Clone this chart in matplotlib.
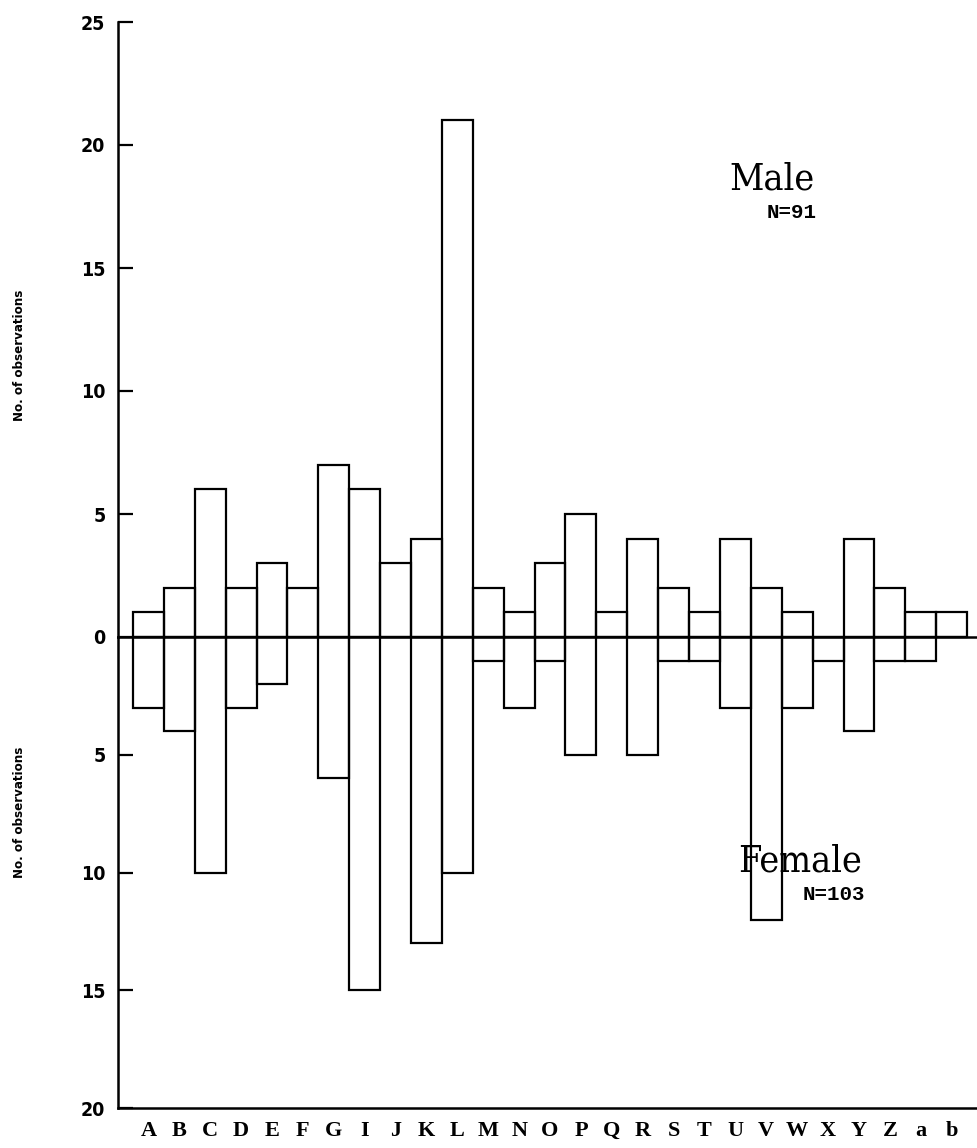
import matplotlib
matplotlib.use("Agg")
import matplotlib.pyplot as plt
import numpy as np

# categories along the bottom (no H in the original)
letters = ['A', 'B', 'C', 'D', 'E', 'F', 'G', 'I', 'J', 'K', 'L', 'M', 'N', 'O',
           'P', 'Q', 'R', 'S', 'T', 'U', 'V', 'W', 'X', 'Y', 'Z', 'a', 'b']
# counts
male = [1, 2, 6, 2, 3, 2, 7, 6, 3, 4, 21, 2, 1, 3, 5, 1, 4, 2, 1, 4, 2, 1, 0, 4, 2, 1, 1]
female = [3, 4, 10, 3, 2, 0, 6, 15, 0, 13, 10, 1, 3, 1, 5, 0, 5, 1, 1, 3, 12, 3, 1, 4, 1, 1, 0]
male_ticks = [0, 5, 10, 15, 20, 25]
female_ticks = [5, 10, 15, 20]

x = np.arange(len(letters))

W, H = 977, 1148
fig = plt.figure(figsize=(W / 100, H / 100), dpi=100, facecolor='white')

left = 118 / W
ax_f = fig.add_axes([left, (H - 1108) / H, 1 - left, (1108 - 637) / H])
ax_m = fig.add_axes([left, (H - 637) / H, 1 - left, (637 - 22) / H], sharex=ax_f)
ax_m.patch.set_visible(False)
ax_f.patch.set_visible(False)

bar_kw = dict(width=1, fill=False, edgecolor='black', linewidth=1.6, clip_on=False)
ax_m.bar(x, male, **bar_kw)
ax_f.bar(x, female, **bar_kw)

ax_m.set_xlim(-0.985, 26.82)
ax_m.set_ylim(0, 25)
ax_f.set_ylim(20, 0)

tick_font = dict(family='DejaVu Sans', weight='bold', stretch='condensed', size=14)

for ax in (ax_m, ax_f):
    ax.spines['right'].set_visible(False)
    ax.spines['top'].set_visible(False)
    ax.spines['left'].set_linewidth(1.8)
    ax.spines['bottom'].set_linewidth(1.8)
    ax.tick_params(axis='y', direction='in', length=11, width=1.6, pad=9)

ax_m.set_yticks(male_ticks)
ax_m.set_yticklabels([str(t) for t in male_ticks], **tick_font)
ax_m.tick_params(axis='x', bottom=False, labelbottom=False)

ax_f.set_yticks(female_ticks)
ax_f.set_yticklabels([str(t) for t in female_ticks], **tick_font)
ax_f.set_xticks(x)
ax_f.set_xticklabels(letters, family='Liberation Serif', weight='bold', size=16)
ax_f.tick_params(axis='x', length=0, pad=9)

label_font = dict(family='DejaVu Sans', stretch='condensed', weight='bold', size=9.5,
                  rotation=90, ha='center', va='center')
fig.text(20 / W, 1 - 355 / H, 'No. of observations', **label_font)
fig.text(20 / W, 1 - 812 / H, 'No. of observations', **label_font)

big_font = dict(family='DejaVu Serif', stretch='condensed', size=27, ha='center', va='center')
small_font = dict(family='Liberation Mono', weight='bold', size=15, ha='center', va='center')
fig.text(772 / W, 1 - 180 / H, 'Male', **big_font)
fig.text(792 / W, 1 - 212 / H, 'N=91', **small_font)
fig.text(800 / W, 1 - 862 / H, 'Female', **big_font)
fig.text(834 / W, 1 - 895 / H, 'N=103', **small_font)

fig.savefig('out.png', dpi=100, facecolor='white')
